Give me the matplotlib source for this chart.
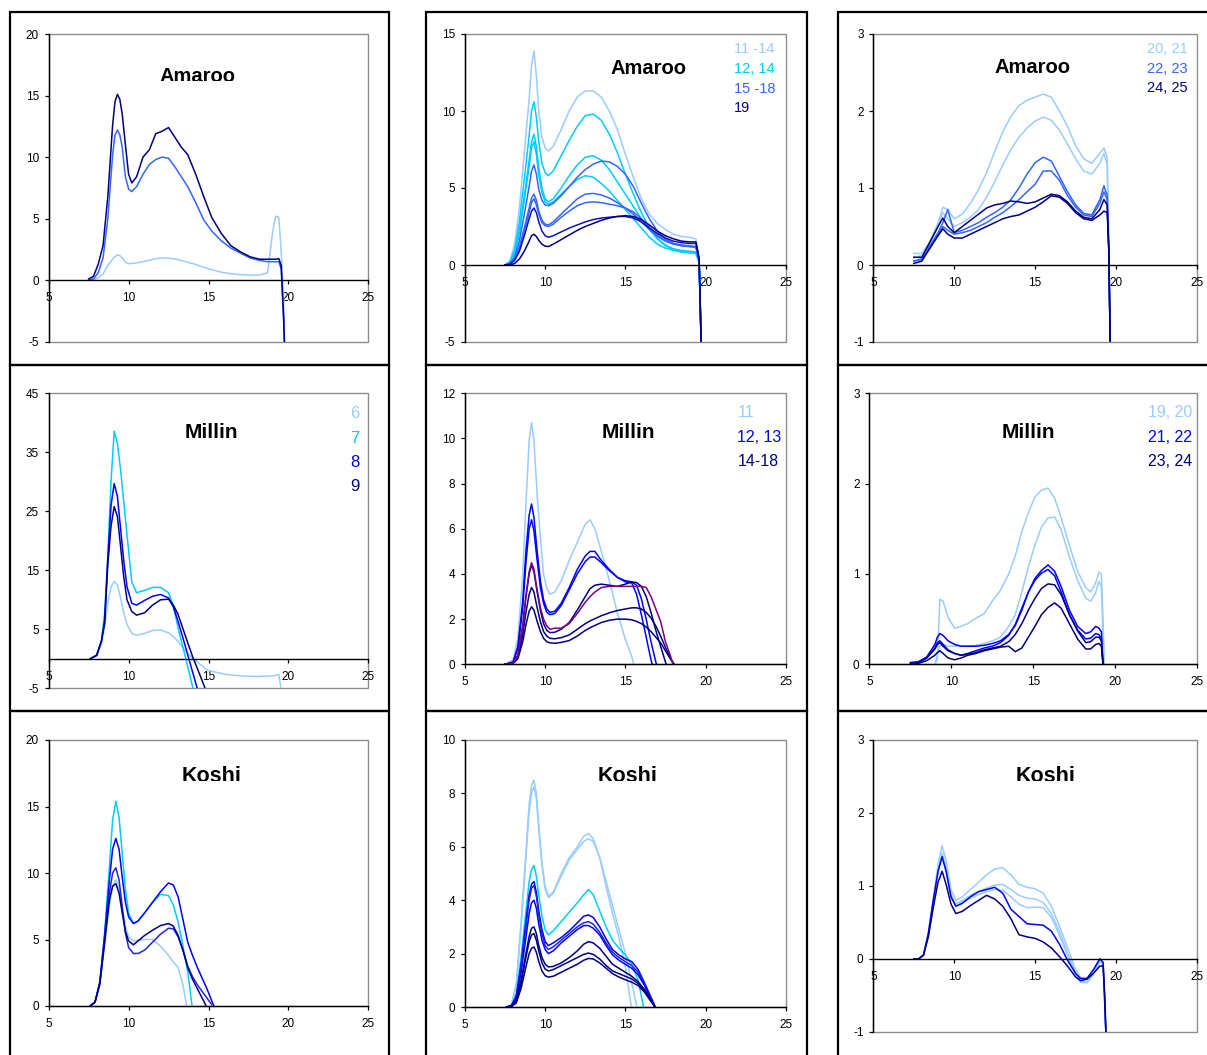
import numpy as np
import matplotlib
matplotlib.use("Agg")
import matplotlib.pyplot as plt
from matplotlib.patches import Rectangle
from matplotlib.transforms import Bbox

plt.rcParams["font.family"] = ["Liberation Sans", "DejaVu Sans"]
plt.rcParams["axes.unicode_minus"] = False

W, H = 1207, 1055
nan = np.nan

LIGHT = "#99CCFF"
CYAN = "#00CCFF"
MEDIUM = "#3366FF"
BLUE = "#0000FF"
NAVY = "#000080"
PURPLE = "#800080"

X_TICKS = [5, 10, 15, 20, 25]

# ---------------- Amaroo, samples 1-10 ----------------
AMA1_X = [7.5, 7.8, 8.1, 8.4, 8.7, 9.0, 9.15, 9.3, 9.45, 9.6, 9.8, 10.0, 10.2, 10.5, 10.9, 11.3, 11.7,
          12.1, 12.5, 12.9, 13.3, 13.7, 14.2, 14.7, 15.2, 15.8, 16.4, 17.0, 17.6, 18.2, 18.7,
          19.0, 19.2, 19.4, 19.55, 19.7, 19.8]
AMA1_LIGHT = [nan, 0.0, 0.2, 0.5, 1.2, 1.7, 1.9, 2.05, 2.0, 1.8, 1.45, 1.35, 1.35, 1.4, 1.5, 1.62, 1.75,
              1.8, 1.8, 1.72, 1.6, 1.45, 1.28, 1.05, 0.85, 0.65, 0.52, 0.45, 0.42, 0.42, 0.6,
              3.8, 5.2, 5.1, 2.3, -1.5, -7]
AMA1_MEDIUM = [0.0, 0.1, 0.6, 1.8, 5.0, 10.2, 11.8, 12.2, 11.8, 10.8, 8.4, 7.4, 7.2, 7.6, 8.6, 9.4, 9.8,
               10.0, 9.9, 9.2, 8.4, 7.6, 6.3, 4.9, 4.0, 3.2, 2.6, 2.2, 1.8, 1.6, 1.5,
               1.5, 1.5, 1.5, 0.9, -3.2, -7]
AMA1_NAVY = [0.1, 0.3, 1.3, 2.8, 6.8, 12.6, 14.5, 15.1, 14.7, 13.5, 11.0, 8.6, 7.9, 8.4, 10.0, 10.6, 11.9,
             12.1, 12.4, 11.6, 10.8, 10.2, 8.6, 6.8, 5.1, 3.8, 2.8, 2.3, 1.9, 1.7, 1.7,
             1.7, 1.7, 1.75, 1.2, -3, -7]

# ---------------- Amaroo, samples 11-19 ----------------
AMA2_X = [7.5, 7.8, 8.1, 8.4, 8.7, 9.0, 9.15, 9.3, 9.45, 9.6, 9.8, 10.0, 10.2, 10.5, 11.0, 11.5,
          12.0, 12.5, 13.0, 13.5, 14.0, 14.5, 15.0, 15.5, 16.0, 16.5, 17.0, 17.5, 18.0, 18.5,
          19.0, 19.4, 19.6, 19.75]
AMA2_S11_14 = [0.0, 0.25, 1.4, 3.8, 7.3, 10.8, 13.0, 13.9, 12.3, 10.0, 8.3, 7.6, 7.4, 7.7, 8.8, 10.0,
               10.9, 11.3, 11.3, 10.9, 10.0, 8.8, 7.2, 5.7, 4.3, 3.3, 2.7, 2.3, 2.0, 1.85,
               1.8, 1.7, 0.5, -6]
AMA2_S12 = [0.0, 0.2, 1.0, 2.9, 5.6, 8.4, 10.0, 10.6, 9.6, 8.0, 6.6, 6.0, 5.8, 6.1, 7.1, 8.1,
            9.0, 9.7, 9.8, 9.4, 8.5, 7.3, 5.9, 4.6, 3.4, 2.4, 1.7, 1.25, 1.0, 0.85,
            0.8, 0.75, 0.2, -6]
AMA2_S14A = [0.0, 0.15, 0.8, 2.3, 4.5, 6.8, 8.0, 8.5, 7.7, 6.3, 5.0, 4.3, 4.1, 4.3, 5.0, 5.8,
             6.5, 7.0, 7.1, 6.8, 6.2, 5.4, 4.6, 3.8, 3.0, 2.3, 1.7, 1.3, 1.05, 0.95,
             0.9, 0.85, 0.2, -6]
AMA2_S14B = [0.0, 0.15, 0.7, 2.1, 4.2, 6.4, 7.6, 8.0, 7.2, 5.8, 4.7, 4.1, 3.95, 4.1, 4.6, 5.1,
             5.55, 5.8, 5.7, 5.3, 4.8, 4.2, 3.6, 3.0, 2.4, 1.8, 1.35, 1.1, 0.95, 0.85,
             0.8, 0.8, 0.2, -6]
AMA2_S15 = [0.0, 0.1, 0.5, 1.6, 3.3, 5.1, 6.1, 6.5, 5.9, 4.9, 4.2, 3.9, 3.85, 4.0, 4.5, 5.1,
            5.7, 6.2, 6.55, 6.75, 6.7, 6.4, 5.9, 5.1, 4.0, 3.0, 2.2, 1.7, 1.4, 1.25,
            1.2, 1.15, 0.3, -6]
AMA2_S16 = [0.0, 0.1, 0.4, 1.2, 2.4, 3.7, 4.35, 4.6, 4.2, 3.5, 2.9, 2.65, 2.6, 2.8, 3.3, 3.8,
            4.3, 4.6, 4.65, 4.55, 4.35, 4.05, 3.7, 3.3, 2.8, 2.3, 1.85, 1.55, 1.35, 1.25,
            1.2, 1.15, 0.3, -6]
AMA2_S17 = [0.0, 0.1, 0.35, 1.1, 2.2, 3.4, 4.05, 4.3, 3.9, 3.3, 2.75, 2.55, 2.5, 2.65, 3.1, 3.5,
            3.85, 4.05, 4.1, 4.05, 3.95, 3.85, 3.7, 3.45, 3.0, 2.45, 1.95, 1.6, 1.4, 1.3,
            1.25, 1.2, 0.3, -6]
AMA2_S18 = [0.0, 0.05, 0.3, 0.9, 1.9, 3.0, 3.5, 3.7, 3.4, 2.8, 2.2, 1.9, 1.8, 1.9, 2.15, 2.4,
            2.6, 2.8, 2.95, 3.05, 3.1, 3.15, 3.15, 3.05, 2.8, 2.4, 2.05, 1.75, 1.55, 1.45,
            1.4, 1.4, 0.4, -6]
AMA2_S19 = [0.0, 0.0, 0.1, 0.4, 0.9, 1.55, 1.9, 2.0, 1.85, 1.6, 1.35, 1.22, 1.2, 1.35, 1.65, 1.95,
            2.25, 2.5, 2.7, 2.9, 3.05, 3.15, 3.2, 3.15, 2.95, 2.6, 2.2, 1.9, 1.7, 1.55,
            1.5, 1.5, 0.4, -6]

# ---------------- Amaroo, samples 20-25 ----------------
AMA3_X = [7.5, 8.0, 8.5, 9.0, 9.3, 9.6, 10.0, 10.5, 11.0, 11.5, 12.0, 12.5, 13.0, 13.5, 14.0,
          14.5, 15.0, 15.5, 16.0, 16.5, 17.0, 17.5, 18.0, 18.5, 19.0, 19.25, 19.45, 19.55, 19.65]
AMA3_S20 = [0.15, 0.15, 0.3, 0.55, 0.75, 0.72, 0.6, 0.66, 0.8, 0.98, 1.2, 1.47, 1.73, 1.93, 2.07,
            2.14, 2.18, 2.22, 2.18, 2.0, 1.8, 1.55, 1.38, 1.32, 1.45, 1.52, 1.4, 0.3, -1.2]
AMA3_S21 = [0.1, 0.12, 0.28, 0.5, 0.68, 0.6, 0.5, 0.55, 0.62, 0.72, 0.88, 1.08, 1.3, 1.5, 1.66,
            1.78, 1.87, 1.92, 1.88, 1.75, 1.57, 1.38, 1.22, 1.18, 1.32, 1.45, 1.3, 0.3, -1.2]
AMA3_S22 = [0.05, 0.08, 0.25, 0.42, 0.55, 0.72, 0.42, 0.45, 0.5, 0.55, 0.62, 0.68, 0.75, 0.85, 1.0,
            1.18, 1.33, 1.4, 1.35, 1.15, 0.95, 0.78, 0.67, 0.65, 0.85, 1.03, 0.9, 0.2, -1.2]
AMA3_S23 = [0.05, 0.07, 0.22, 0.4, 0.5, 0.45, 0.4, 0.42, 0.45, 0.5, 0.55, 0.62, 0.68, 0.76, 0.85,
            0.95, 1.05, 1.22, 1.22, 1.1, 0.9, 0.75, 0.65, 0.63, 0.8, 0.95, 0.85, 0.2, -1.2]
AMA3_S24 = [0.1, 0.1, 0.3, 0.5, 0.61, 0.5, 0.42, 0.5, 0.58, 0.66, 0.74, 0.78, 0.8, 0.83, 0.82,
            0.8, 0.82, 0.87, 0.92, 0.9, 0.82, 0.7, 0.62, 0.6, 0.72, 0.85, 0.78, 0.2, -1.2]
AMA3_S25 = [0.02, 0.05, 0.22, 0.38, 0.47, 0.4, 0.35, 0.35, 0.4, 0.45, 0.5, 0.55, 0.6, 0.63, 0.65,
            0.7, 0.75, 0.82, 0.9, 0.88, 0.8, 0.68, 0.6, 0.58, 0.65, 0.7, 0.68, 0.2, -1.2]

# ---------------- Millin, samples 6-9 ----------------
MIL1_X = [7.6, 8.0, 8.3, 8.5, 8.7, 8.9, 9.1, 9.3, 9.5, 9.7, 9.9, 10.2, 10.5, 11.0, 11.5, 12.0,
          12.5, 12.8, 13.1, 13.5, 14.0, 14.5, 15.0, 16.0, 17.0, 18.0, 19.0, 19.4, 19.6]
MIL1_S6 = [0, 0.5, 2.5, 5.4, 9.5, 12.2, 13.1, 12.5, 10.3, 7.8, 5.8, 4.3, 4.0, 4.3, 4.8, 4.9,
           4.4, 3.8, 2.9, 1.5, 0.1, -1.0, -2.0, -2.6, -2.9, -3.0, -2.9, -2.7, -6]
MIL1_S7 = [0, 0.6, 3.0, 7.7, 17.5, 30.0, 38.6, 36.5, 32.0, 26.5, 21.0, 13.0, 11.2, 11.6, 12.1, 12.1,
           11.2, 9.0, 5.2, 0.9, -4.7, -9, nan, nan, nan, nan, nan, nan, nan]
MIL1_S8 = [0, 0.6, 3.0, 6.6, 17.0, 26.0, 29.7, 27.5, 22.0, 16.5, 12.2, 9.4, 9.1, 9.9, 10.6, 10.9,
           10.3, 8.8, 6.3, 2.6, -2.2, -7, nan, nan, nan, nan, nan, nan, nan]
MIL1_S9 = [0, 0.6, 3.0, 6.0, 16.0, 22.5, 25.8, 24.1, 19.0, 13.8, 10.0, 8.0, 7.4, 7.8, 9.1, 10.0,
           10.1, 9.1, 7.5, 4.3, 0.4, -3.0, -6.5, nan, nan, nan, nan, nan, nan]

# ---------------- Millin, samples 11-18 ----------------
MIL2_X = [7.5, 8.0, 8.3, 8.6, 8.8, 9.0, 9.15, 9.3, 9.5, 9.7, 9.9, 10.1, 10.3, 10.6, 11.0, 11.5,
          12.0, 12.5, 12.8, 13.1, 13.5, 14.0, 14.5, 15.0, 15.4, 15.7, 16.0, 16.3, 16.6, 16.9,
          17.2, 17.5, 17.8, 18.1]
MIL2_S11 = [0, 0.2, 1.2, 4.0, 7.1, 9.9, 10.7, 9.9, 7.5, 5.6, 4.0, 3.35, 3.1, 3.2, 3.7, 4.6,
            5.4, 6.2, 6.4, 6.0, 5.0, 3.7, 2.3, 1.1, 0.35, -0.5, nan, nan, nan, nan,
            nan, nan, nan, nan]
MIL2_S12 = [0, 0.1, 0.8, 2.8, 5.0, 6.6, 7.1, 6.5, 5.0, 3.7, 2.85, 2.45, 2.3, 2.35, 2.7, 3.4,
            4.2, 4.8, 5.0, 5.0, 4.6, 4.2, 3.85, 3.65, 3.6, 3.1, 2.2, 1.2, 0.2, -0.6,
            nan, nan, nan, nan]
MIL2_S13 = [0, 0.1, 0.7, 2.5, 4.5, 6.0, 6.4, 5.9, 4.6, 3.4, 2.7, 2.3, 2.2, 2.25, 2.6, 3.3,
            4.0, 4.55, 4.75, 4.75, 4.5, 4.15, 3.85, 3.7, 3.65, 3.5, 2.9, 2.0, 1.0, 0.1,
            -0.5, nan, nan, nan]
MIL2_S14 = [0, 0.05, 0.4, 1.7, 3.0, 4.1, 4.5, 4.2, 3.3, 2.5, 2.0, 1.7, 1.55, 1.6, 1.6, 1.8,
            2.25, 2.75, 3.0, 3.2, 3.4, 3.45, 3.45, 3.45, 3.45, 3.45, 3.45, 3.4, 3.0, 2.45,
            1.9, 1.0, 0.4, -0.3]
MIL2_S15 = [0, 0.05, 0.4, 1.7, 3.0, 4.0, 4.4, 4.1, 3.2, 2.4, 1.8, 1.5, 1.4, 1.42, 1.55, 1.85,
            2.4, 3.0, 3.35, 3.5, 3.55, 3.5, 3.45, 3.55, 3.65, 3.62, 3.45, 3.0, 2.3, 1.5,
            0.8, 0.1, -0.5, nan]
MIL2_S16 = [0, 0.05, 0.3, 1.3, 2.3, 3.1, 3.4, 3.2, 2.5, 1.9, 1.45, 1.25, 1.15, 1.13, 1.18, 1.3,
            1.55, 1.8, 1.92, 2.02, 2.15, 2.28, 2.38, 2.45, 2.5, 2.5, 2.45, 2.3, 2.05, 1.7,
            1.25, 0.75, 0.3, -0.1]
MIL2_S17 = [0, 0.03, 0.25, 1.0, 1.75, 2.35, 2.55, 2.4, 1.9, 1.45, 1.15, 1.0, 0.95, 0.93, 0.97, 1.05,
            1.25, 1.5, 1.62, 1.72, 1.85, 1.95, 2.0, 2.0, 1.97, 1.9, 1.8, 1.65, 1.45, 1.2,
            0.95, 0.6, 0.25, -0.05]

# ---------------- Millin, samples 19-24 ----------------
MIL3_X = [7.5, 8.0, 8.5, 9.0, 9.15, 9.3, 9.5, 9.8, 10.2, 10.6, 11.0, 11.5, 12.0, 12.5, 13.0, 13.5,
          13.9, 14.3, 14.7, 15.1, 15.5, 15.9, 16.3, 16.7, 17.2, 17.7, 18.2, 18.5, 18.8, 19.0,
          19.15, 19.25, 19.35]
MIL3_S19 = [nan, nan, nan, 0.0, 0.05, 0.72, 0.7, 0.52, 0.4, 0.42, 0.45, 0.51, 0.56, 0.7, 0.82, 1.0,
            1.2, 1.47, 1.68, 1.85, 1.93, 1.95, 1.84, 1.62, 1.32, 1.03, 0.85, 0.8, 0.9, 1.02,
            1.0, 0.5, -0.1]
MIL3_S20 = [nan, nan, nan, 0.0, 0.1, 0.2, 0.22, 0.2, 0.2, 0.2, 0.2, 0.21, 0.23, 0.26, 0.3, 0.42,
            0.55, 0.8, 1.08, 1.32, 1.52, 1.62, 1.63, 1.49, 1.19, 0.93, 0.73, 0.7, 0.79, 0.92,
            0.86, 0.3, -0.1]
MIL3_S21 = [0.02, 0.03, 0.08, 0.22, 0.3, 0.34, 0.32, 0.26, 0.22, 0.2, 0.2, 0.2, 0.21, 0.23, 0.26, 0.33,
            0.43, 0.6, 0.8, 0.95, 1.04, 1.1, 1.03, 0.86, 0.6, 0.42, 0.34, 0.36, 0.42, 0.4,
            0.36, 0.0, nan]
MIL3_S22 = [0.0, 0.02, 0.07, 0.18, 0.24, 0.26, 0.22, 0.16, 0.12, 0.1, 0.12, 0.15, 0.18, 0.2, 0.24, 0.32,
            0.44, 0.62, 0.8, 0.93, 1.01, 1.05, 0.98, 0.8, 0.55, 0.38, 0.28, 0.29, 0.34, 0.33,
            0.28, 0.0, nan]
MIL3_S23 = [0.0, 0.02, 0.07, 0.17, 0.22, 0.24, 0.2, 0.15, 0.12, 0.1, 0.11, 0.13, 0.16, 0.18, 0.2, 0.25,
            0.33, 0.45, 0.6, 0.73, 0.84, 0.89, 0.88, 0.77, 0.55, 0.37, 0.24, 0.25, 0.3, 0.3,
            0.26, 0.0, nan]
MIL3_S24 = [0.0, 0.01, 0.04, 0.1, 0.13, 0.15, 0.12, 0.07, 0.05, 0.07, 0.1, 0.12, 0.15, 0.17, 0.19, 0.2,
            0.14, 0.18, 0.3, 0.42, 0.55, 0.63, 0.68, 0.62, 0.45, 0.28, 0.17, 0.17, 0.22, 0.23,
            0.2, 0.0, nan]

# ---------------- Koshi, samples 6-9 ----------------
KOS1_X = [7.6, 7.9, 8.2, 8.5, 8.8, 9.0, 9.2, 9.4, 9.6, 9.8, 10.0, 10.3, 10.6, 11.0, 11.5, 12.0,
          12.5, 12.8, 13.1, 13.4, 13.7, 14.0, 14.3, 14.6, 14.9, 15.2, 15.4]
KOS1_S6 = [0, 0.3, 1.5, 4.5, 7.5, 9.0, 9.5, 8.8, 7.3, 6.0, 5.2, 4.9, 4.95, 5.0, 5.0, 4.5,
           3.8, 3.3, 2.9, 1.6, -0.5, nan, nan, nan, nan, nan, nan]
KOS1_S7 = [0, 0.3, 1.8, 5.5, 10.5, 14.0, 15.4, 14.2, 11.5, 8.8, 7.0, 6.2, 6.4, 7.0, 7.8, 8.4,
           8.3, 7.6, 6.3, 4.5, 2.6, -0.3, nan, nan, nan, nan, nan]
KOS1_S8 = [0, 0.3, 1.8, 5.3, 9.5, 11.8, 12.6, 11.8, 9.7, 7.8, 6.7, 6.2, 6.4, 7.0, 7.8, 8.6,
           9.25, 9.1, 8.2, 6.5, 4.8, 3.8, 2.9, 2.1, 1.3, 0.4, -0.2]
KOS1_S8B = [0, 0.3, 1.7, 5.0, 8.5, 10.0, 10.4, 9.5, 7.5, 5.5, 4.4, 3.95, 3.95, 4.2, 4.8, 5.4,
            5.85, 5.8, 5.2, 4.2, 3.0, 2.2, 1.6, 1.1, 0.6, 0.1, nan]
KOS1_S9 = [0, 0.3, 1.7, 4.8, 8.0, 9.0, 9.2, 8.5, 7.0, 5.6, 4.9, 4.6, 4.9, 5.3, 5.7, 6.05,
           6.2, 6.0, 5.3, 4.2, 2.9, 2.0, 1.3, 0.6, -0.1, nan, nan]

# ---------------- Koshi, samples 11-19 ----------------
KOS2_X = [7.6, 7.9, 8.2, 8.5, 8.8, 9.0, 9.15, 9.3, 9.45, 9.6, 9.8, 10.0, 10.2, 10.5, 11.0, 11.5,
          12.0, 12.4, 12.7, 13.0, 13.4, 13.8, 14.2, 14.6, 15.0, 15.4, 15.8, 16.2, 16.5, 16.8, 17.0]
KOS2_S11 = [0, 0.1, 0.9, 3.2, 5.8, 7.6, 8.3, 8.5, 8.0, 6.8, 5.4, 4.5, 4.15, 4.3, 5.0, 5.6,
            6.0, 6.4, 6.5, 6.3, 5.6, 4.5, 3.5, 2.6, 1.5, -0.1, nan, nan, nan, nan, nan]
KOS2_S12 = [0, 0.1, 0.8, 3.0, 5.6, 7.3, 8.0, 8.25, 7.8, 6.7, 5.3, 4.4, 4.1, 4.25, 4.9, 5.5,
            5.9, 6.2, 6.3, 6.2, 5.6, 4.7, 3.8, 2.9, 2.0, 0.9, -0.2, nan, nan, nan, nan]
KOS2_S13 = [0, 0.05, 0.5, 1.9, 3.6, 4.7, 5.15, 5.3, 4.9, 4.2, 3.4, 2.9, 2.7, 2.85, 3.2, 3.55,
            3.9, 4.2, 4.4, 4.2, 3.6, 3.0, 2.5, 2.2, 1.95, 1.6, 1.0, -0.2, nan, nan, nan]
KOS2_S14 = [0, 0.05, 0.4, 1.6, 3.2, 4.2, 4.6, 4.7, 4.3, 3.6, 2.9, 2.45, 2.3, 2.4, 2.6, 2.85,
            3.15, 3.4, 3.45, 3.35, 3.0, 2.55, 2.15, 1.95, 1.8, 1.7, 1.4, 0.9, 0.5, 0.1, -0.2]
KOS2_S15 = [0, 0.05, 0.4, 1.5, 3.0, 4.0, 4.45, 4.55, 4.15, 3.45, 2.75, 2.3, 2.15, 2.25, 2.5, 2.75,
            3.0, 3.15, 3.2, 3.1, 2.8, 2.4, 2.05, 1.85, 1.7, 1.55, 1.3, 0.85, 0.45, 0.05, -0.2]
KOS2_S16 = [0, 0.05, 0.35, 1.3, 2.6, 3.5, 3.9, 4.0, 3.7, 3.1, 2.5, 2.15, 2.0, 2.1, 2.4, 2.65,
            2.9, 3.05, 3.05, 2.95, 2.7, 2.3, 1.95, 1.75, 1.6, 1.45, 1.2, 0.8, 0.4, 0.05, -0.2]
KOS2_S17 = [0, 0.03, 0.25, 1.0, 2.0, 2.65, 2.95, 3.0, 2.75, 2.3, 1.85, 1.6, 1.5, 1.52, 1.65, 1.85,
            2.1, 2.35, 2.45, 2.4, 2.2, 1.9, 1.6, 1.45, 1.3, 1.15, 0.95, 0.65, 0.35, 0.05, -0.2]
KOS2_S18 = [0, 0.03, 0.2, 0.9, 1.85, 2.45, 2.7, 2.75, 2.5, 2.1, 1.65, 1.42, 1.35, 1.4, 1.55, 1.7,
            1.85, 1.97, 2.02, 1.97, 1.8, 1.55, 1.35, 1.25, 1.15, 1.05, 0.88, 0.6, 0.3, 0.05, -0.2]
KOS2_S19 = [0, 0.02, 0.15, 0.7, 1.5, 2.0, 2.2, 2.25, 2.05, 1.7, 1.35, 1.17, 1.12, 1.15, 1.3, 1.45,
            1.6, 1.75, 1.82, 1.8, 1.65, 1.45, 1.25, 1.12, 1.02, 0.93, 0.8, 0.55, 0.3, 0.05, -0.2]

# ---------------- Koshi, samples 20-25 ----------------
KOS3_X = [7.5, 7.8, 8.1, 8.4, 8.7, 9.0, 9.25, 9.5, 9.8, 10.1, 10.5, 11.0, 11.5, 12.0, 12.5, 13.0,
          13.5, 14.0, 14.5, 15.0, 15.5, 16.0, 16.5, 17.0, 17.5, 17.8, 18.2, 18.6, 19.0, 19.2,
          19.3, 19.4]
KOS3_S20 = [0.0, 0.0, 0.05, 0.35, 0.8, 1.3, 1.55, 1.35, 0.95, 0.8, 0.85, 0.95, 1.05, 1.15, 1.23, 1.25,
            1.15, 1.02, 0.98, 0.96, 0.9, 0.72, 0.45, 0.15, -0.15, -0.25, -0.28, -0.15, 0.0, -0.05,
            -0.6, -1.2]
KOS3_S21 = [0.0, 0.0, 0.05, 0.33, 0.75, 1.22, 1.45, 1.25, 0.88, 0.75, 0.8, 0.87, 0.92, 0.97, 1.01, 1.02,
            0.95, 0.87, 0.83, 0.82, 0.77, 0.62, 0.37, 0.08, -0.2, -0.3, -0.32, -0.2, -0.02, -0.08,
            -0.6, -1.2]
KOS3_S22 = [0.0, 0.0, 0.05, 0.3, 0.72, 1.18, 1.4, 1.2, 0.85, 0.72, 0.78, 0.83, 0.88, 0.92, 0.95, 0.94,
            0.85, 0.75, 0.7, 0.71, 0.7, 0.57, 0.32, 0.05, -0.22, -0.32, -0.33, -0.22, -0.03, -0.1,
            -0.6, -1.2]
KOS3_S23 = [0.0, 0.0, 0.05, 0.35, 0.8, 1.2, 1.4, 1.2, 0.85, 0.72, 0.76, 0.85, 0.92, 0.95, 0.98, 0.9,
            0.68, 0.58, 0.48, 0.47, 0.46, 0.38, 0.2, -0.02, -0.2, -0.27, -0.27, -0.15, 0.0, -0.05,
            -0.6, -1.2]
KOS3_S24 = [0.0, 0.0, 0.05, 0.3, 0.7, 1.05, 1.2, 1.02, 0.75, 0.62, 0.65, 0.73, 0.8, 0.87, 0.82, 0.72,
            0.55, 0.33, 0.3, 0.28, 0.23, 0.15, 0.03, -0.1, -0.25, -0.3, -0.28, -0.2, -0.1, -0.1,
            -0.5, -1.2]

# ---------------- panel definitions ----------------
# box = (left, top, right, bottom) of the plot area in pixels
PANELS = [
    dict(box=(48.7, 34, 368.3, 341.7), ylim=(-5, 20), yticks=[-5, 0, 5, 10, 15, 20],
         x=AMA1_X, series=[(AMA1_LIGHT, LIGHT), (AMA1_MEDIUM, MEDIUM), (AMA1_NAVY, NAVY)],
         title="Amaroo", tx=197, ttop=68, tsize=14.5, clip=80.5, legend=None),
    dict(box=(465, 34, 785.7, 342), ylim=(-5, 15), yticks=[-5, 0, 5, 10, 15],
         x=AMA2_X, series=[(AMA2_S11_14, LIGHT), (AMA2_S12, CYAN), (AMA2_S14A, CYAN),
                           (AMA2_S14B, CYAN), (AMA2_S15, MEDIUM), (AMA2_S16, MEDIUM),
                           (AMA2_S17, MEDIUM), (AMA2_S18, "#1010C8"), (AMA2_S19, NAVY)],
         title="Amaroo", tx=648.8, ttop=60, tsize=14.5, clip=None,
         legend=dict(x=734, ha="left", size=10.5,
                     items=[("11 -14", LIGHT, 47.7), ("12, 14", CYAN, 67.7),
                            ("15 -18", MEDIUM, 87.3), ("19", NAVY, 106.7)])),
    dict(box=(873.3, 34, 1197, 342), ylim=(-1, 3), yticks=[-1, 0, 1, 2, 3],
         x=AMA3_X, series=[(AMA3_S20, LIGHT), (AMA3_S21, LIGHT), (AMA3_S22, MEDIUM),
                           (AMA3_S23, MEDIUM), (AMA3_S24, NAVY), (AMA3_S25, NAVY)],
         title="Amaroo", tx=1032.8, ttop=58.3, tsize=14.5, clip=None,
         legend=dict(x=1146.7, ha="left", size=10.5,
                     items=[("20, 21", LIGHT, 47.7), ("22, 23", MEDIUM, 67.7),
                            ("24, 25", NAVY, 86.7)])),
    dict(box=(48.7, 393.3, 368.3, 688.3), ylim=(-5, 45), yticks=[-5, 5, 15, 25, 35, 45],
         x=MIL1_X, series=[(MIL1_S6, LIGHT), (MIL1_S7, CYAN), (MIL1_S8, BLUE), (MIL1_S9, NAVY)],
         title="Millin", tx=211.2, ttop=423.3, tsize=15, clip=None,
         legend=dict(x=359.5, ha="right", size=12,
                     items=[("6", LIGHT, 412.3), ("7", CYAN, 436.7),
                            ("8", BLUE, 460.7), ("9", NAVY, 485)])),
    dict(box=(465, 393.3, 785.7, 664.3), ylim=(0, 12), yticks=[0, 2, 4, 6, 8, 10, 12],
         x=MIL2_X, series=[(MIL2_S11, LIGHT), (MIL2_S12, BLUE), (MIL2_S13, BLUE),
                           (MIL2_S15, NAVY), (MIL2_S16, NAVY), (MIL2_S17, NAVY),
                           (MIL2_S14, PURPLE)],
         title="Millin", tx=628.5, ttop=423.3, tsize=15, clip=None,
         legend=dict(x=737.3, ha="left", size=11.5,
                     items=[("11", LIGHT, 411), ("12, 13", BLUE, 436), ("14-18", NAVY, 460)])),
    dict(box=(869.3, 393.3, 1197.3, 664.3), ylim=(0, 3), yticks=[0, 1, 2, 3],
         x=MIL3_X, series=[(MIL3_S19, LIGHT), (MIL3_S20, LIGHT), (MIL3_S21, BLUE),
                           (MIL3_S22, BLUE), (MIL3_S23, NAVY), (MIL3_S24, NAVY)],
         title="Millin", tx=1028.7, ttop=423.3, tsize=15, clip=None,
         legend=dict(x=1147.7, ha="left", size=11.5,
                     items=[("19, 20", LIGHT, 411), ("21, 22", BLUE, 436), ("23, 24", NAVY, 460)])),
    dict(box=(48.7, 740, 368.3, 1006), ylim=(0, 20), yticks=[0, 5, 10, 15, 20],
         x=KOS1_X, series=[(KOS1_S6, LIGHT), (KOS1_S7, CYAN), (KOS1_S8, BLUE),
                           (KOS1_S8B, "#2222DD"), (KOS1_S9, NAVY)],
         title="Koshi", tx=211.2, ttop=766.7, tsize=15.5, clip=780.5, legend=None),
    dict(box=(465, 740, 785.7, 1007), ylim=(0, 10), yticks=[0, 2, 4, 6, 8, 10],
         x=KOS2_X, series=[(KOS2_S11, LIGHT), (KOS2_S12, LIGHT), (KOS2_S13, CYAN),
                           (KOS2_S14, BLUE), (KOS2_S15, "#2222DD"), (KOS2_S16, BLUE),
                           (KOS2_S17, NAVY), (KOS2_S18, NAVY), (KOS2_S19, NAVY)],
         title="Koshi", tx=627.8, ttop=766.7, tsize=15.5, clip=780.5, legend=None),
    dict(box=(873.3, 740, 1197, 1031.7), ylim=(-1, 3), yticks=[-1, 0, 1, 2, 3],
         x=KOS3_X, series=[(KOS3_S20, LIGHT), (KOS3_S21, LIGHT), (KOS3_S22, LIGHT),
                           (KOS3_S23, BLUE), (KOS3_S24, NAVY)],
         title="Koshi", tx=1045.2, ttop=766.7, tsize=15.5, clip=780.5, legend=None),
]

# cell frames (left, top, right, bottom) in pixels
CELLS = [(9.5, 12, 389, 365), (426, 12, 806.5, 365), (837.5, 12, 1215, 365),
         (9.5, 365, 389, 711), (426, 365, 806.5, 711), (837.5, 365, 1215, 711),
         (9.5, 711, 389, 1065), (426, 711, 806.5, 1065), (837.5, 711, 1215, 1065)]

fig = plt.figure(figsize=(W / 100, H / 100), dpi=100)
fig.patch.set_facecolor("white")

for (x0, y0, x1, y1) in CELLS:
    fig.add_artist(Rectangle((x0 / W, 1 - y1 / H), (x1 - x0) / W, (y1 - y0) / H,
                             transform=fig.transFigure, fill=False, ec="black", lw=1.6,
                             clip_on=False))

for p in PANELS:
    left, top, right, bottom = p["box"]
    ax = fig.add_axes([left / W, 1 - bottom / H, (right - left) / W, (bottom - top) / H])
    ax.set_facecolor("white")
    for ys, col in p["series"]:
        ax.plot(p["x"], ys, color=col, lw=1.1, solid_joinstyle="round")
    ax.set_xlim(5, 25)
    ax.set_ylim(*p["ylim"])
    ax.set_xticks(X_TICKS)
    ax.set_yticks(p["yticks"])
    # gray plot-area frame
    ax.add_patch(Rectangle((0, 0), 1, 1, transform=ax.transAxes, fill=False,
                           ec="#8C8C8C", lw=1.0, clip_on=False, zorder=0.5))
    ax.spines["top"].set_visible(False)
    ax.spines["right"].set_visible(False)
    for s in ("left", "bottom"):
        ax.spines[s].set_color("black")
        ax.spines[s].set_linewidth(1.0)
    if p["ylim"][0] < 0:
        ax.spines["bottom"].set_position(("data", 0))
    ax.tick_params(axis="both", direction="out", length=3, width=0.9, colors="black",
                   labelsize=8.5)
    ax.tick_params(axis="x", pad=5.5)
    ax.tick_params(axis="y", pad=4)

    cap = 0.716 * p["tsize"] * 100 / 72
    t = fig.text(p["tx"] / W, 1 - (p["ttop"] + cap) / H, p["title"], ha="center",
                 va="baseline", fontsize=p["tsize"], fontweight="bold", color="black")
    if p["clip"] is not None:
        t.set_clip_box(Bbox.from_extents(0, H - p["clip"], W, H))
        t.set_clip_on(True)

    lg = p["legend"]
    if lg:
        for label, col, yc in lg["items"]:
            fig.text(lg["x"] / W, 1 - yc / H, label, color=col, fontsize=lg["size"],
                     ha=lg["ha"], va="center_baseline")

fig.savefig("out.png", dpi=100)
